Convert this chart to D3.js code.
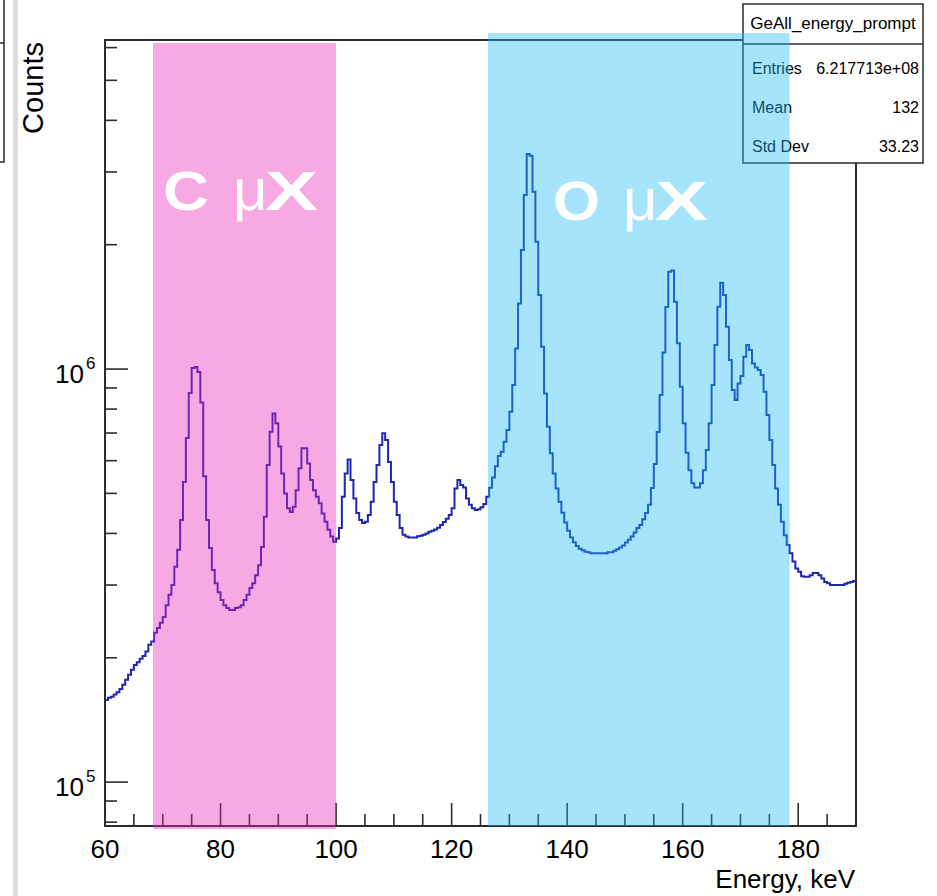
<!DOCTYPE html>
<html>
<head>
<meta charset="utf-8">
<script src="https://cdn.jsdelivr.net/npm/d3@7"></script>
<style>
  html, body { margin: 0; padding: 0; background: #fff; }
  svg { display: block; }
  text { font-family: "Liberation Sans", Arial, Helvetica, sans-serif; fill: #000; }
</style>
</head>
<body>
<svg id="chart" width="937" height="896"></svg>
<script>
// Germanium prompt energy spectrum, 0.5 keV bins starting at 60 keV (counts in thousands)
const binLow = 60;
const binWidth = 0.5;
const countsK = [
  158, 160, 161, 163, 165, 168, 172, 177, 182, 187, 192, 195, 199, 202, 207, 215,
  219, 230, 236, 243, 251, 268, 284, 300, 332, 365, 431, 533, 681, 875, 1006, 1011,
  983, 830, 550, 431, 369, 326, 303, 288, 276, 268, 264, 261, 261, 264, 265, 268,
  276, 284, 295, 303, 317, 335, 371, 439, 586, 705, 781, 739, 649, 559, 500, 460,
  451, 464, 509, 575, 643, 643, 591, 539, 509, 491, 473, 447, 427, 408, 393, 382,
  389, 412, 491, 559, 604, 539, 486, 448, 431, 424, 427, 443, 477, 533, 586, 655,
  699, 673, 596, 533, 477, 443, 412, 397, 393, 391, 391, 391, 394, 395, 397, 400,
  404, 406, 409, 413, 419, 426, 434, 443, 460, 514, 539, 524, 517, 486, 469, 460,
  456, 458, 463, 471, 491, 516, 546, 582, 616, 631, 667, 712, 788, 915, 1122, 1442,
  1941, 2638, 3316, 3285, 2687, 2033, 1511, 1132, 873, 725, 625, 559, 514, 477, 449, 425,
  406, 391, 381, 373, 367, 364, 361, 360, 358, 358, 358, 358, 358, 358, 360, 360,
  363, 366, 370, 374, 380, 386, 393, 402, 412, 419, 433, 448, 469, 515, 589, 704,
  865, 1096, 1413, 1720, 1732, 1455, 1154, 906, 739, 627, 569, 529, 517, 517, 529, 569,
  637, 739, 915, 1143, 1415, 1618, 1511, 1266, 1051, 890, 841, 923, 962, 1071, 1143, 1112,
  1032, 1009, 994, 967, 881, 774, 673, 586, 514, 469, 427, 396, 375, 358, 342, 329,
  323, 315, 314, 314, 317, 321, 321, 317, 311, 305, 303, 300, 300, 300, 300, 300,
  302, 304, 305, 307
];

// Axis ranges and ticks
const xDomain = [60, 190];
const yDomain = [7.83e4, 6.26e6];
const xTickLabels = [60, 80, 100, 120, 140, 160, 180];
const xMinorStep = 5;
const yMajorTicks = [1e5, 1e6];
const yMinorTicks = [8e4, 9e4, 2e5, 3e5, 4e5, 5e5, 6e5, 7e5, 8e5, 9e5, 2e6, 3e6, 4e6, 5e6, 6e6];
const xTitle = "Energy, keV";
const yTitle = "Counts";

// Highlighted muonic X-ray regions (keV)
const bandElements = ["C", "O"];
const bandFrom = [68.3, 126.3];
const bandTo = [100, 178.5];

// Statistics box
const statsTitle = "GeAll_energy_prompt";
const statsLabels = ["Entries", "Mean", "Std Dev"];
const statsValues = ["6.217713e+08", "132", "33.23"];

const svg = d3.select("#chart");
const frame = { left: 105, top: 40, right: 856, bottom: 826 };

const x = d3.scaleLinear().domain(xDomain).range([frame.left, frame.right]);
const y = d3.scaleLog().domain(yDomain).range([frame.bottom, frame.top]);

// Neighbouring pad edge and divider on the far left
svg.append("rect").attr("x", 13).attr("y", 0).attr("width", 5).attr("height", 896).attr("fill", "#dcdcdc");
svg.append("path").attr("d", "M-1,43H4M4,-1V162H-1")
  .attr("fill", "none").attr("stroke", "#2a2a2a").attr("stroke-width", 1.5);

// Frame
svg.append("rect")
  .attr("x", frame.left).attr("y", frame.top)
  .attr("width", frame.right - frame.left).attr("height", frame.bottom - frame.top)
  .attr("fill", "none").attr("stroke", "#2b2b2b").attr("stroke-width", 2);

// X ticks
const xTicks = d3.range(xDomain[0] + xMinorStep, xDomain[1], xMinorStep);
svg.append("g").selectAll("line").data(xTicks).join("line")
  .attr("x1", d => x(d)).attr("x2", d => x(d))
  .attr("y1", frame.bottom)
  .attr("y2", d => frame.bottom - (d % 20 === 0 ? 23 : 12))
  .attr("stroke", "#2b2b2b").attr("stroke-width", 1.6);

// Y ticks
svg.append("g").selectAll("line").data(yMajorTicks.concat(yMinorTicks)).join("line")
  .attr("x1", frame.left)
  .attr("x2", d => frame.left + (yMajorTicks.includes(d) ? 23 : 12))
  .attr("y1", d => y(d)).attr("y2", d => y(d))
  .attr("stroke", "#2b2b2b").attr("stroke-width", 1.6);

// Histogram outline
const pts = countsK.map((c, i) => [binLow + i * binWidth, c * 1000]);
pts.push([binLow + countsK.length * binWidth, countsK[countsK.length - 1] * 1000]);
const line = d3.line().x(d => x(d[0])).y(d => y(d[1])).curve(d3.curveStepAfter);
svg.append("path").datum(pts)
  .attr("d", line)
  .attr("fill", "none")
  .attr("stroke", "#1c26b0")
  .attr("stroke-width", 2)
  .attr("stroke-linejoin", "miter");

// Statistics box
const sb = { x: 743, y: 4, w: 180, h: 159 };
svg.append("rect").attr("x", sb.x).attr("y", sb.y).attr("width", sb.w).attr("height", sb.h)
  .attr("fill", "#fff").attr("stroke", "#2a2a2a").attr("stroke-width", 1.5);
svg.append("line").attr("x1", sb.x).attr("x2", sb.x + sb.w).attr("y1", 44).attr("y2", 44)
  .attr("stroke", "#2a2a2a").attr("stroke-width", 1.5);
svg.append("text").attr("x", sb.x + sb.w / 2).attr("y", 29)
  .attr("text-anchor", "middle").attr("font-size", 17).text(statsTitle);
statsLabels.forEach((lab, i) => {
  const by = 74 + i * 39;
  svg.append("text").attr("x", 752).attr("y", by).attr("font-size", 16).text(lab);
  svg.append("text").attr("x", 919).attr("y", by).attr("text-anchor", "end")
    .attr("font-size", 16).text(statsValues[i]);
});

// X tick labels
svg.append("g").selectAll("text").data(xTickLabels).join("text")
  .attr("x", d => x(d)).attr("y", 858)
  .attr("text-anchor", "middle").attr("font-size", 26)
  .text(d => d);

// Y tick labels as 10^n
yMajorTicks.forEach(v => {
  const ty = y(v);
  svg.append("text").attr("x", 84).attr("y", ty + 14)
    .attr("text-anchor", "end").attr("font-size", 26).text("10");
  svg.append("text").attr("x", 86).attr("y", ty)
    .attr("font-size", 17).text(String(Math.round(Math.log10(v))));
});

// Axis titles
svg.append("text").attr("x", 855).attr("y", 888)
  .attr("text-anchor", "end").attr("font-size", 26).text(xTitle);
svg.append("text").attr("transform", "translate(43,42) rotate(-90)")
  .attr("text-anchor", "end").attr("font-size", 29).text(yTitle);

// Translucent region overlays
const bandFill = ["rgb(232,40,185)", "rgb(32,187,245)"];
const bandTop = [frame.top + 3, frame.top - 7];
const bandBottom = [frame.bottom + 3, frame.bottom];
bandElements.forEach((el, i) => {
  svg.append("rect")
    .attr("x", x(bandFrom[i])).attr("y", bandTop[i])
    .attr("width", x(bandTo[i]) - x(bandFrom[i]))
    .attr("height", bandBottom[i] - bandTop[i])
    .attr("fill", bandFill[i]).attr("fill-opacity", 0.4);
});

// Region labels
const labelBase = [210, 220];
const labelLeft = [163, 553];
const letterWidth = [46, 47];
bandElements.forEach((el, i) => {
  const g = svg.append("g").attr("fill", "#fff");
  g.append("text").attr("x", labelLeft[i]).attr("y", labelBase[i])
    .attr("font-family", "'DejaVu Sans', sans-serif").attr("font-weight", "bold")
    .attr("font-size", 56).attr("textLength", letterWidth[i]).attr("lengthAdjust", "spacingAndGlyphs")
    .style("fill", "#fff").text(el);
  g.append("text").attr("x", labelLeft[i] + 70).attr("y", labelBase[i])
    .attr("font-family", "'Liberation Serif', 'DejaVu Serif', serif")
    .attr("font-size", 60).style("fill", "#fff").text("μ");
  g.append("text").attr("x", labelLeft[i] + 102).attr("y", labelBase[i])
    .attr("font-family", "'DejaVu Sans', sans-serif").attr("font-weight", "bold")
    .attr("font-size", 56).attr("textLength", 53).attr("lengthAdjust", "spacingAndGlyphs")
    .style("fill", "#fff").text("X");
});
</script>
</body>
</html>
